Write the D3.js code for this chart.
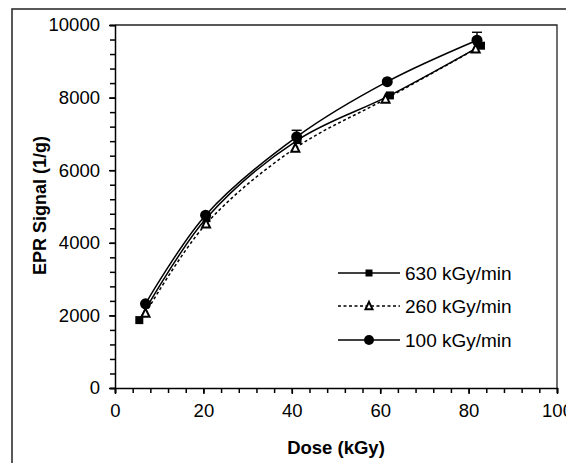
<!DOCTYPE html>
<html><head><meta charset="utf-8">
<script src="https://cdn.jsdelivr.net/npm/d3@7"></script>
<style>body{margin:0;background:#fff}svg{display:block}text{font-family:"Liberation Sans",Arial,sans-serif}</style>
</head><body><svg id="c" width="566" height="463"></svg>
<script>
const seriesNames = ["630 kGy/min", "260 kGy/min", "100 kGy/min"];
const dose630 = [5.5, 20.7, 41.3, 62.2, 82.8];
const signal630 = [1870, 4680, 6830, 8060, 9430];
const dose260 = [6.9, 20.6, 40.8, 61.2, 81.6];
const signal260 = [2060, 4520, 6610, 7960, 9340];
const dose100 = [6.9, 20.5, 41.1, 61.6, 81.9];
const signal100 = [2320, 4760, 6920, 8440, 9580];
const err100 = [0, 0, 180, 0, 220];
const xTicks = [0, 20, 40, 60, 80, 100];
const yTicks = [0, 2000, 4000, 6000, 8000, 10000];

const svg = d3.select("#c");
const L = 115, R = 557, T = 25, B = 388;
const x = d3.scaleLinear().domain([0, 100]).range([L, R]);
const y = d3.scaleLinear().domain([0, 10000]).range([B, T]);

// outer frame
svg.append("rect").attr("x", 12).attr("y", 9).attr("width", 570).attr("height", 470)
  .attr("fill", "none").attr("stroke", "#222").attr("stroke-width", 1.5);

// plot frame top/right
svg.append("path").attr("d", `M${L},${T}H${R}V${B}`).attr("fill", "none")
  .attr("stroke", "#222").attr("stroke-width", 1.3);

// minor ticks
const xMinor = d3.range(0, 101, 4);
const yMinor = d3.range(0, 10001, 400);
const xa = svg.append("g").attr("transform", `translate(0,${B})`)
  .call(d3.axisBottom(x).tickValues(xMinor).tickSize(5).tickFormat(""));
const ya = svg.append("g").attr("transform", `translate(${L},0)`)
  .call(d3.axisLeft(y).tickValues(yMinor).tickSize(5).tickFormat(""));
[xa, ya].forEach(g => { g.selectAll("path,line").attr("stroke", "#000").attr("stroke-width", 1.5); });

const xl = svg.append("g").attr("transform", `translate(0,${B})`)
  .call(d3.axisBottom(x).tickValues(xTicks).tickSize(6).tickPadding(10).tickFormat(d3.format("d")));
const yl = svg.append("g").attr("transform", `translate(${L},0)`)
  .call(d3.axisLeft(y).tickValues(yTicks).tickSize(6).tickPadding(9).tickFormat(d3.format("d")));
[xl, yl].forEach(g => {
  g.select(".domain").remove();
  g.selectAll("line").attr("stroke", "#000").attr("stroke-width", 1.5);
  g.selectAll("text").attr("fill", "#000").style("font-size", "18.5px").attr("font-family", "Liberation Sans, Arial, sans-serif");
});

// axis titles
svg.append("text").attr("x", x(50)).attr("y", 454).attr("text-anchor", "middle")
  .style("font-size", "18.5px").style("font-weight", "bold").text("Dose (kGy)");
svg.append("text").attr("transform", `translate(46,${(T + B) / 2 - 1}) rotate(-90)`).attr("text-anchor", "middle")
  .style("font-size", "18px").style("font-weight", "bold").text("EPR Signal (1/g)");

const line = d3.line().x(d => x(d[0])).y(d => y(d[1])).curve(d3.curveCatmullRom.alpha(0.5));
const d630 = dose630.map((d, i) => [d, signal630[i]]);
const d260 = dose260.map((d, i) => [d, signal260[i]]);
const d100 = dose100.map((d, i) => [d, signal100[i]]);

svg.append("path").datum(d630).attr("d", line).attr("fill", "none").attr("stroke", "#000").attr("stroke-width", 1.5);
svg.append("path").datum(d260).attr("d", line).attr("fill", "none").attr("stroke", "#000").attr("stroke-width", 1.5).attr("stroke-dasharray", "3,2.5");
svg.append("path").datum(d100).attr("d", line).attr("fill", "none").attr("stroke", "#000").attr("stroke-width", 1.5);

// error bars for 100
d100.forEach((d, i) => {
  if (!err100[i]) return;
  const g = svg.append("g").attr("stroke", "#000").attr("stroke-width", 1.4);
  g.append("line").attr("x1", x(d[0])).attr("x2", x(d[0])).attr("y1", y(d[1] - err100[i])).attr("y2", y(d[1] + err100[i]));
  g.append("line").attr("x1", x(d[0]) - 5).attr("x2", x(d[0]) + 5).attr("y1", y(d[1] + err100[i])).attr("y2", y(d[1] + err100[i]));
});

function square(g, cx, cy, s) { g.append("rect").attr("x", cx - s / 2).attr("y", cy - s / 2).attr("width", s).attr("height", s).attr("fill", "#000"); }
function tri(g, cx, cy, s) {
  const h = s * 0.9;
  g.append("path").attr("d", `M${cx},${cy - h / 2 - 1}L${cx + s / 2},${cy + h / 2}L${cx - s / 2},${cy + h / 2}Z`)
    .attr("fill", "#fff").attr("stroke", "#000").attr("stroke-width", 2);
}
function circ(g, cx, cy, r) { g.append("circle").attr("cx", cx).attr("cy", cy).attr("r", r).attr("fill", "#000"); }

const mk = svg.append("g");
d630.forEach(d => square(mk, x(d[0]), y(d[1]), 8));
d260.forEach(d => tri(mk, x(d[0]), y(d[1]), 8));
d100.forEach(d => circ(mk, x(d[0]), y(d[1]), 5.5));

// legend
const lg = svg.append("g");
const rows = [273, 306, 340];
const lx1 = 338, lx2 = 400, lm = 369;
seriesNames.forEach((n, i) => {
  const yy = rows[i];
  lg.append("line").attr("x1", lx1).attr("x2", lx2).attr("y1", yy).attr("y2", yy)
    .attr("stroke", "#000").attr("stroke-width", 1.4).attr("stroke-dasharray", i === 1 ? "3,2.5" : null);
  if (i === 0) square(lg, lm, yy, 7);
  if (i === 1) tri(lg, lm, yy, 7);
  if (i === 2) circ(lg, lm, yy, 5);
  lg.append("text").attr("x", 405).attr("y", yy + 6.5).style("font-size", "19px").text(n);
});
</script></body></html>
